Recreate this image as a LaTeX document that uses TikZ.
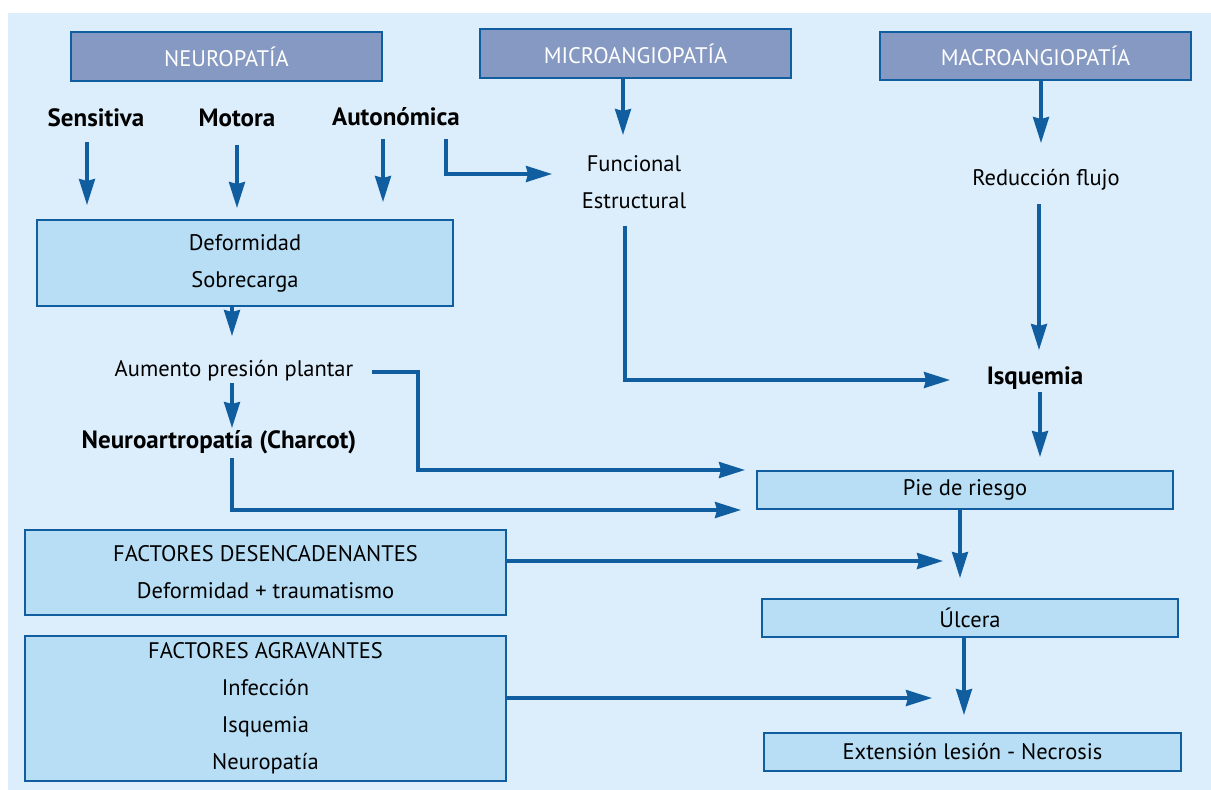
\documentclass[tikz,border=0pt]{standalone}
\usepackage{fontspec}
\setmainfont{PT Sans}
\usetikzlibrary{arrows.meta}
\definecolor{bgc}{RGB}{220,238,251}
\definecolor{boxc}{RGB}{183,222,245}
\definecolor{headc}{RGB}{133,153,194}
\definecolor{lc}{RGB}{16,94,160}
\begin{document}
\begin{tikzpicture}[x=1pt,y=-1pt,
  every node/.style={font=\fontsize{22.5}{37}\selectfont, inner sep=0pt, text=black},
  headbox/.style={draw=lc, line width=2.2pt, fill=headc, minimum width=311pt, minimum height=49pt, text=white},
  lbox/.style={draw=lc, line width=2.2pt, fill=boxc, align=center},
  lbl/.style={align=center},
  blbl/.style={font=\fontsize{25}{37}\selectfont\bfseries},
  arr/.style={draw=lc, line width=3.2pt, -{Stealth[length=26pt,width=16pt,inset=2pt]}},
]
\useasboundingbox (0,0) rectangle (1211,790);
\fill[white] (0,0) rectangle (1211,790);
\fill[bgc] (8,13) rectangle (1211,790);

% headers
\node[headbox] (neuro) at (226.5,56.5) {NEUROPATÍA};
\node[headbox] (micro) at (635.5,53.5) {MICROANGIOPATÍA};
\node[headbox, minimum height=48pt] (macro) at (1035.5,56) {MACROANGIOPATÍA};

% neuropathy types
\node[blbl] (sens) at (96,118) {Sensitiva};
\node[blbl] (mot) at (237,118) {Motora};
\node[blbl] (auto) at (396,117) {Autonómica};

% text nodes
\node[lbl] (func) at (634,182) {Funcional\\Estructural};
\node[lbl] (reduc) at (1046,180) {Reducción flujo};
\node[lbl] (aum) at (234,371) {Aumento presión plantar};
\node[blbl] (charcot) at (219,442) {Neuroartropatía (Charcot)};
\node[blbl] (isq) at (1035,378) {Isquemia};

% boxes
\node[lbox, minimum width=416pt, minimum height=86pt] (deform) at (245,263) {Deformidad\\Sobrecarga};
\node[lbox, minimum width=416pt, minimum height=38pt] (pie) at (965,490) {Pie de riesgo};
\node[lbox, minimum width=481pt, minimum height=85pt] (desenc) at (265.5,572.5) {FACTORES DESENCADENANTES\\Deformidad + traumatismo};
\node[lbox, minimum width=416pt, minimum height=38pt] (ulc) at (970,618) {Úlcera};
\node[lbox, minimum width=481pt, minimum height=145pt] (agrav) at (265.5,708.5) {FACTORES AGRAVANTES\\Infección\\Isquemia\\Neuropatía};
\node[lbox, minimum width=417pt, minimum height=38pt] (ext) at (972.5,752) {Extensión lesión - Necrosis};

% free ends
\coordinate (sensT) at (87,205);
\coordinate (motT) at (237,208);
\coordinate (autoT) at (383,202);
\coordinate (autoE) at (552,174);
\coordinate (funcT) at (623,135);
\coordinate (reducT) at (1041,143);
\coordinate (aumT) at (232,336);
\coordinate (aumS) at (372,0);
\coordinate (aumK) at (418,0);
\coordinate (charT) at (232,428);
\coordinate (isqE) at (950,380);
\coordinate (isqT) at (1039,350);
\coordinate (pieT) at (1040,457);
\coordinate (pieA) at (745,470);
\coordinate (pieB) at (741,510);
\coordinate (ulcT) at (960,578);
\coordinate (ulcA) at (943,561);
\coordinate (extT) at (964,715);
\coordinate (extA) at (932,698);

% connectors
\draw[arr] ([shift={(-9,15)}]sens.south) -- (sensT);
\draw[arr] ([shift={(0,17.5)}]mot.south) -- (motT);
\draw[arr] ([shift={(-13,12.5)}]auto.south) -- (autoT);
\draw[arr] ([shift={(50,12.5)}]auto.south) |- (autoE);
\draw[arr] ([shift={(-12.5,0)}]micro.south) -- (funcT);
\draw[arr] ([shift={(5.5,0)}]macro.south) -- (reducT);
\draw[arr] ([shift={(-13,0)}]deform.south) -- (aumT);
\draw[arr] ([shift={(-2,1.5)}]aum.south) -- (charT);
\draw[arr] ([shift={(-9,17)}]func.south) |- (isqE);
\draw[arr] ([shift={(-7,13.5)}]reduc.south) -- (isqT);
\draw[arr] ([shift={(5,2)}]isq.south) -- (pieT);
\draw[arr] ([shift={(0,1)}]aum.east -| aumS) -- ([shift={(0,1)}]aum.east -| aumK) |- (pieA);
\draw[arr] ([shift={(13,4)}]charcot.south) |- (pieB);
\draw[arr] ([shift={(-5,0)}]pie.south) -- (ulcT);
\draw[arr] ([shift={(0,-11.5)}]desenc.east) -- (ulcA);
\draw[arr] ([shift={(-6,0)}]ulc.south) -- (extT);
\draw[arr] ([shift={(0,-10.5)}]agrav.east) -- (extA);
\end{tikzpicture}
\end{document}
